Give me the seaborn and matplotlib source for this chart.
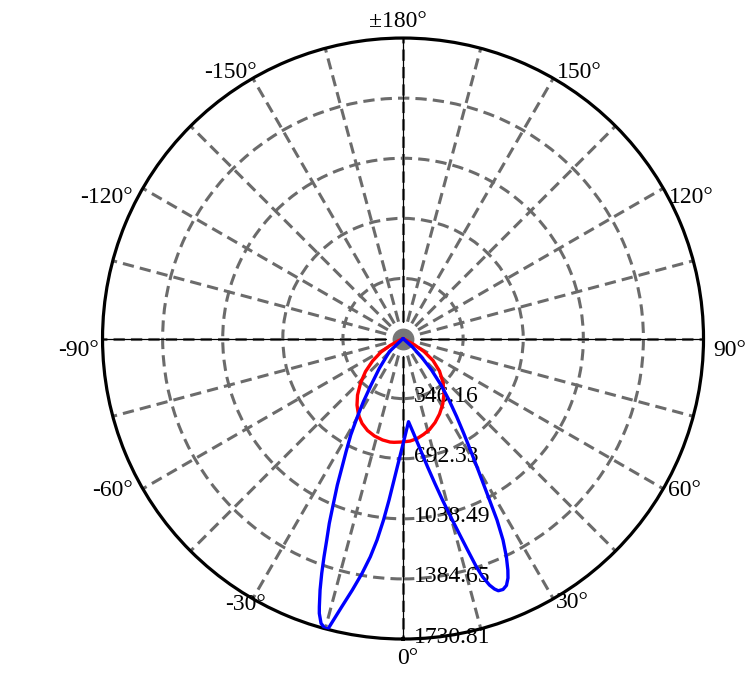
import numpy as np
import pandas as pd
import matplotlib
matplotlib.use("Agg")
import matplotlib.pyplot as plt
from matplotlib.transforms import offset_copy
import seaborn as sns

# intensity curves, angle in degrees (0 = straight down), value in cd
red_angles = [-90, -68, -63.4, -61.7, -58.5, -53.6, -48.65, -43.68, -38.84, -34.67,
              -30.18, -25.75, -21.1, -16.3, -11.42, -7.16, -4.96, -0.55, 3.91, 7.97,
              12.05, 16.24, 20.85, 25.8, 31.28, 36.7, 42.27, 48.32, 53.75, 58.24, 61.4,
              66, 90]
red_values = [0, 0, 32, 85, 149, 218, 288, 354, 418, 466,
              510, 543, 568, 585, 596, 601, 600, 596, 592, 582,
              565, 546, 518, 483, 441, 395, 343, 281, 214, 142, 72,
              0, 0]

blue_angles = [-90, -52, -46.1, -38.5, -34.5, -32.1, -30.1, -28.46, -26.72, -25.28,
               -24.15, -22.68, -21.75, -20.74, -19.9, -19.1, -18.26, -17.33, -16.94,
               -16.06, -15.16, -14.62, -14.43, -13.87, -12.87, -11.4, -9.9, -8.52,
               -7.35, -6.13, -4.95, -3.64, -1.89, 0.56, 3.78, 6.32, 8.92, 10.82, 12.39,
               13.74, 14.96, 16.04, 16.98, 17.81, 18.45, 19.33, 20.06, 20.7, 21.72,
               22.73, 23.67, 24.36, 25.34, 26.39, 27.38, 28.17, 28.98, 29.96, 31.15,
               32.63, 34.48, 36.8, 39.25, 42.14, 45, 48.2, 52, 90]
blue_values = [0, 0, 109, 219, 325, 430, 531, 632, 730, 827,
               925, 1050, 1146, 1241, 1337, 1431, 1525, 1618, 1655,
               1707, 1727, 1730.81, 1722, 1670, 1585, 1478, 1373, 1271,
               1170, 1051, 934, 817, 700, 585, 480, 549, 650, 752, 854,
               958, 1062, 1167, 1274, 1381, 1446, 1505, 1536, 1553, 1556,
               1542, 1506, 1464, 1391, 1296, 1177, 1055, 953, 852, 750,
               648, 546, 442, 346, 245, 151, 73, 0, 0]

r_ticks = [346.16, 692.33, 1038.49, 1384.65, 1730.81]
r_labels = ["346.16", "692.33", "1038.49", "1384.65", "1730.81"]

theta_ticks = [0, 30, 60, 90, 120, 150, 180, -150, -120, -90, -60, -30]
theta_labels = ["0°", "30°", "60°", "90°", "120°", "150°", "±180°",
                "-150°", "-120°", "-90°", "-60°", "-30°"]
# pixel offsets of each angle label from its point on the outer circle
theta_offsets = [(5, 21), (19, 6), (21, 4), (26, 14), (28, 11), (26, -4), (-5, -15),
                 (-22, -4), (-36, 11), (-24, 14), (-30, 4), (-7, 8)]

sns.set_style("white")
plt.rcParams['font.family'] = ['Liberation Serif', 'DejaVu Serif']
plt.rcParams['text.color'] = 'black'

fig = plt.figure(figsize=(7.51, 6.77), dpi=100)
ax = fig.add_axes([0.1365, 0.0561, 0.8003, 0.8877], projection='polar')
ax.set_theta_zero_location('S')
ax.set_theta_direction(1)

rmax = r_ticks[-1]

# thin black cross through the centre
for a in [0, 90, 180, 270]:
    ax.plot([np.deg2rad(a)] * 2, [0, rmax], color='black', lw=0.9, zorder=2)

red_df = pd.DataFrame({'theta': np.deg2rad(red_angles), 'r': red_values})
blue_df = pd.DataFrame({'theta': np.deg2rad(blue_angles), 'r': blue_values})
sns.lineplot(data=red_df, x='theta', y='r', ax=ax, color='#ff0000', lw=2.4,
             sort=False, estimator=None, zorder=5)
sns.lineplot(data=blue_df, x='theta', y='r', ax=ax, color='#0000ff', lw=2.4,
             sort=False, estimator=None, zorder=6)

ax.scatter([0], [0], s=390, color='#777777', edgecolors='white', linewidths=4, zorder=4)

ax.set_ylim(0, rmax)
ax.set_rgrids(r_ticks[:-1], labels=[])
ax.set_thetagrids(np.arange(0, 360, 15), labels=[])
ax.grid(True, color='#6b6b6b', lw=2.2, linestyle=(0, (3.7, 2)))
ax.spines['polar'].set_color('black')
ax.spines['polar'].set_linewidth(2.3)
ax.set_xlabel('')
ax.set_ylabel('')

for r, lab in zip(r_ticks, r_labels):
    tr = offset_copy(ax.transData, fig=fig, x=11, y=2, units='dots')
    ax.text(0, r, lab, transform=tr, ha='left', va='center', fontsize=17,
            color='black', zorder=3)

for a, lab, (dx, dy) in zip(theta_ticks, theta_labels, theta_offsets):
    tr = offset_copy(ax.transData, fig=fig, x=dx, y=-dy + 2, units='dots')
    ax.text(np.deg2rad(a), rmax, lab, transform=tr, ha='center', va='center',
            fontsize=17, color='black', clip_on=False)

fig.savefig('out.png', dpi=100)
